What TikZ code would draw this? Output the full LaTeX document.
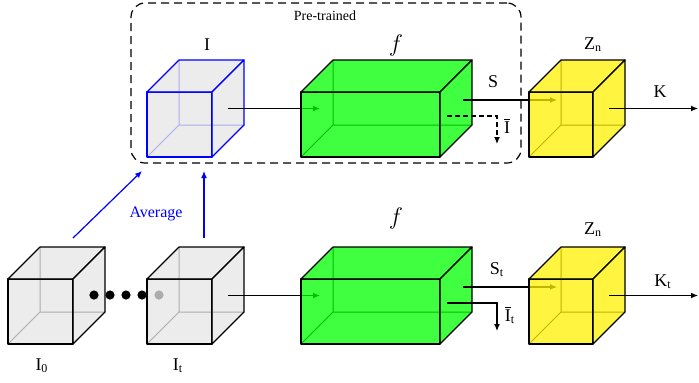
\documentclass[tikz,border=0pt]{standalone}
\usepackage{fontspec}
\setmainfont{Liberation Serif}
\usetikzlibrary{positioning,arrows.meta,calc}
\definecolor{boxgray}{HTML}{E6E6E6}

\tikzset{
  face/.style={fill opacity=0.75, line width=0.6pt, line join=round},
  hidden/.style={line width=0.5pt},
  conn/.style={-{Latex[length=3.5pt,width=3pt]}, line width=0.6pt},
  avg/.style={-{Latex[length=3.5pt,width=3pt]}, line width=0.6pt, blue},
  lbl/.style={font=\small, inner sep=1pt},
}

% #1 name, #2 left, #3 top, #4 width
\newcommand{\cubepoints}[4]{
  \coordinate (#1-l) at (#2+16,#3+16.5);
  \coordinate (#1-r) at (#2+#4+16,#3+16.5);
}
% #1 name, #2 left, #3 top, #4 width, #5 edge colour, #6 fill colour
\newcommand{\cuboid}[6]{
  \draw[hidden, #5] (#2,#3+65) -- ++(32,-32) -- ++(0,-65) (#2+32,#3+33) -- ++(#4,0);
  \node[face, draw=#5, fill=#6, inner sep=0pt, outer sep=0pt, anchor=north west,
        minimum width=#4*0.5pt, minimum height=32.5pt] (#1) at (#2,#3) {};
  \filldraw[face, draw=#5, fill=#6] (#1.north west) -- ++(32,-32) -- ++(#4,0) -- (#1.north east) -- cycle;
  \filldraw[face, draw=#5, fill=#6] (#1.north east) -- ++(32,-32) -- ++(0,65) -- (#1.south east) -- cycle;
}

\begin{document}
\begin{tikzpicture}[x=0.5pt, y=-0.5pt]
\useasboundingbox (0,0) rectangle (699,382);

% pre-trained block
\node[draw, dash pattern=on 4pt off 2.5pt, rounded corners=7pt, line width=0.6pt,
      minimum width=195pt, minimum height=80pt, inner sep=0pt] (pre) at (326,83) {};
\node[font=\scriptsize] (pretxt) at (325,16) {Pre-trained};

\cubepoints{avgI}{147}{92}{65}
\cubepoints{encA}{301}{92}{139}
\cubepoints{zA}{529}{92}{64}
\cubepoints{frameO}{8}{279}{65}
\cubepoints{frameT}{147}{279}{65}
\cubepoints{encB}{301}{279}{139}
\cubepoints{zB}{529}{279}{64}

\coordinate (sA) at (463,100);   \coordinate (sAend) at (557,100);
\coordinate (iA) at (447,116);   \coordinate (iAend) at (497,144);
\coordinate (kA) at (698,108.5);
\coordinate (sB) at (463,287);   \coordinate (sBend) at (557,287);
\coordinate (iB) at (447,303);   \coordinate (iBend) at (497,331);
\coordinate (kB) at (698,295.5);
\coordinate (avgFromO) at (73,238);  \coordinate (avgToO) at (142,171);
\coordinate (avgFromT) at (204,238); \coordinate (avgToT) at (204,171);

% top row
\cuboid{avgI}{147}{92}{65}{blue}{boxgray}
\draw[conn, shorten >=-1.5pt] (avgI-r) -- (encA-l);
\cuboid{encA}{301}{92}{139}{black}{green}
\draw[conn] (sA) -- (sAend);
\draw[conn, dash pattern=on 2.5pt off 1.5pt] (iA) -| (iAend);
\cuboid{zA}{529}{92}{64}{black}{yellow}
\draw[conn] (zA-r) -- (kA);

% bottom row
\cuboid{frameO}{8}{279}{65}{black}{boxgray}
\foreach \x in {94,110,126,142,159}
  \fill (\x,295) circle (2.3pt);
\cuboid{frameT}{147}{279}{65}{black}{boxgray}
\draw[conn, shorten >=-1.5pt] (frameT-r) -- (encB-l);
\cuboid{encB}{301}{279}{139}{black}{green}
\draw[conn] (sB) -- (sBend);
\draw[conn] (iB) -| (iBend);
\cuboid{zB}{529}{279}{64}{black}{yellow}
\draw[conn] (zB-r) -- (kB);

\draw[avg] (avgFromO) -- (avgToO);
\draw[avg] (avgFromT) -- (avgToT);
\node[font=\footnotesize, text=blue] (avgtxt) at (156,214) {Average};

% labels
\node[lbl] (lI) at (207,45) {I};
\node[lbl, font=\large] (lfA) at (396,45) {$f$};
\node[lbl] (lzA) at (593,45) {Z\textsubscript{n}};
\node[lbl] (lsA) at (493,82) {S};
\node[lbl] (liA) at (507,126) {$\overline{\hbox{I}}$};
\node[lbl] (lkA) at (660,92) {K};
\node[lbl, font=\large] (lfB) at (396,218) {$f$};
\node[lbl] (lzB) at (593,230) {Z\textsubscript{n}};
\node[lbl] (lsB) at (497,270) {S\textsubscript{t}};
\node[lbl] (liB) at (510,315) {$\overline{\hbox{I}}$\textsubscript{t}};
\node[lbl] (lkB) at (663,282) {K\textsubscript{t}};
\node[lbl] (lIO) at (42,366) {I\textsubscript{0}};
\node[lbl] (lIT) at (178,366) {I\textsubscript{t}};
\end{tikzpicture}
\end{document}
